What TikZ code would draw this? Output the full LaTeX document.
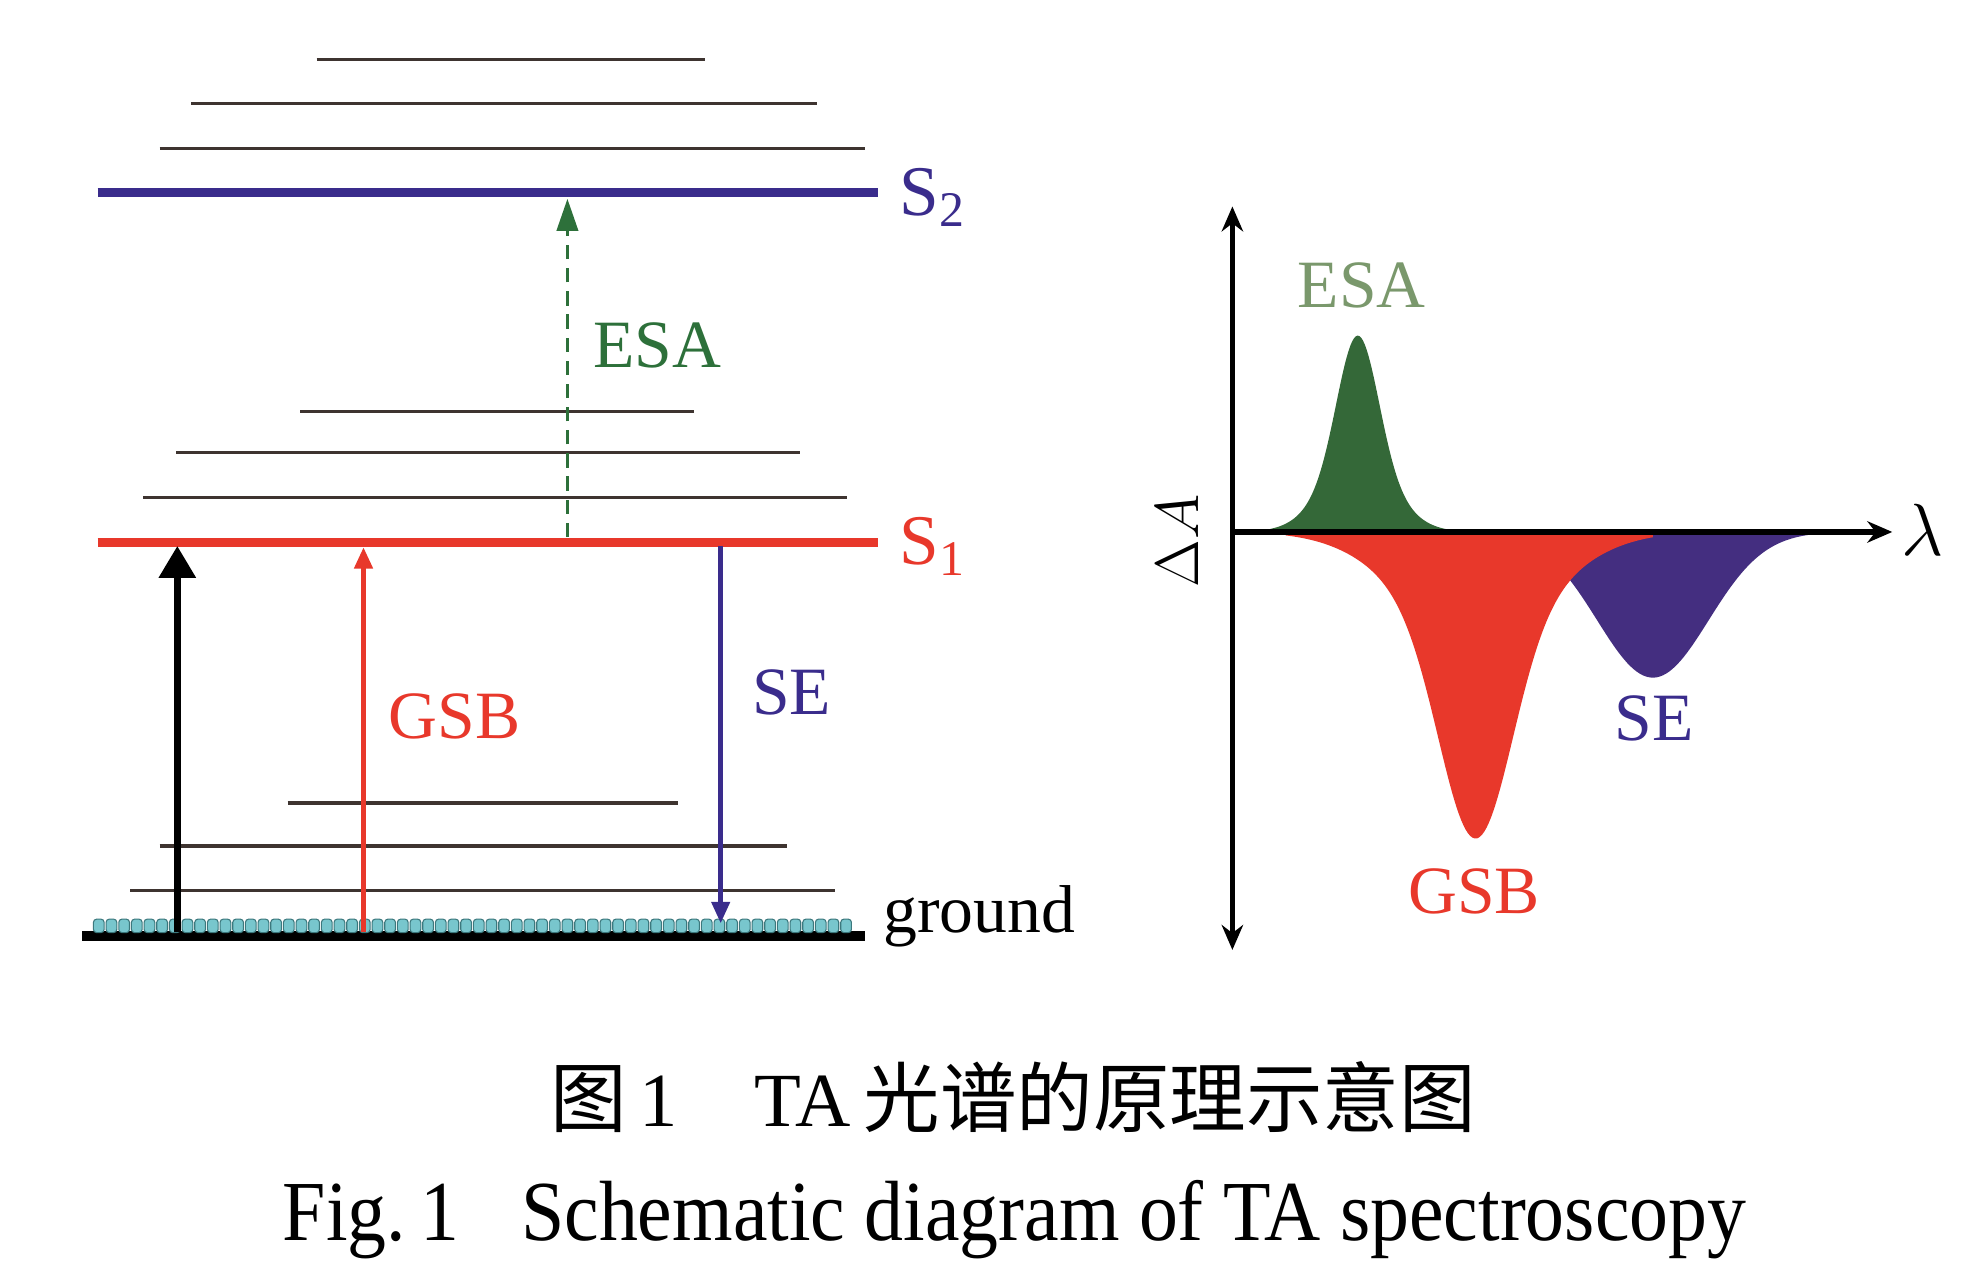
\documentclass[tikz,border=0pt]{standalone}
\usepackage{fontspec}
\setmainfont{Liberation Serif}
\newfontfamily\cjk{Noto Sans CJK SC}
\newfontfamily\capfont{Liberation Serif}[FakeStretch=0.91]
\usetikzlibrary{arrows.meta}
\definecolor{lvlgrey}{RGB}{62,52,48}
\definecolor{sblue}{RGB}{58,44,140}
\definecolor{sred}{RGB}{232,56,43}
\definecolor{esagreen}{RGB}{45,112,58}
\definecolor{esalight}{RGB}{122,152,108}
\definecolor{esafill}{RGB}{52,104,56}
\definecolor{sefill}{RGB}{68,46,128}
\definecolor{beadcol}{RGB}{120,198,205}
\definecolor{beadedge}{RGB}{60,120,125}

\begin{document}
\begin{tikzpicture}[x=0.125mm, y=-0.125mm,
    lvl/.style={draw=lvlgrey, line width=0.9pt},
    lbl/.style={font=\fontsize{19}{22}\selectfont, inner sep=0pt},
    bead/.style={draw=beadedge, fill=beadcol, line width=0.3pt, rounded corners=0.9pt,
        minimum width=3pt, minimum height=3.8pt, inner sep=0pt},
    axis/.style={line width=1.5pt, {Stealth[length=7pt,width=6pt]}-{Stealth[length=7pt,width=6pt]}}]
    \useasboundingbox (0,0) rectangle (1568,1016);

    \draw[lvl] (250,47) -- (557,47);
    \draw[lvl] (151,82) -- (645,82);
    \draw[lvl] (126,117) -- (683,117);
    \draw[sblue, line width=2.5pt] (77,152) -- (693,152);
    \node (S2) at (710,170) [lbl, sblue, anchor=base west, font=\fontsize{20}{22}\selectfont] {S\textsubscript{2}};

    \draw[lvl] (237,325) -- (548,325);
    \draw[lvl] (139,357) -- (632,357);
    \draw[lvl] (113,393) -- (669,393);
    \draw[sred, line width=2.5pt] (77,428) -- (693,428);
    \node (S1) at (710,446) [lbl, sred, anchor=base west, font=\fontsize{20}{22}\selectfont] {S\textsubscript{1}};

    \draw[lvl] (227,634) -- (535,634);
    \draw[lvl] (126,668) -- (621,668);
    \draw[lvl] (103,703) -- (659,703);
    \draw[black, line width=2.8pt] (65,739) -- (683,739);
    \foreach \i in {0,...,59}
        \node (b\i) at ({78+10*\i},731) [bead] {};
    \node (gnd) at (697,736) [lbl, anchor=base west] {ground};

    \coordinate (p0) at (140,736);
    \coordinate (p1) at (140,431);
    \coordinate (r0) at (287,736);
    \coordinate (r1) at (287,432);
    \coordinate (e0) at (569,431);
    \coordinate (e1) at (569,729);
    \coordinate (a0) at (448,424);
    \coordinate (a1) at (448,157);

    \draw[line width=2.1pt, -{Triangle[length=9pt,width=10pt]}] (p0) -- (p1);
    \draw[sred, line width=1.4pt, -{Triangle[length=6pt,width=5pt]}] (r0) -- (r1);
    \draw[sblue, line width=1.3pt, -{Triangle[length=6pt,width=5pt]}] (e0) -- (e1);
    \draw[esagreen, line width=0.8pt, dash pattern=on 4pt off 2.5pt, -{Triangle[length=9pt,width=6pt]}] (a0) -- (a1);

    \node (esa) at (519,290) [lbl, esagreen, anchor=base] {ESA};
    \node (gsb) at (359,583) [lbl, sred, anchor=base] {GSB};
    \node (se) at (625,564) [lbl, sblue, anchor=base] {SE};

    \fill[sefill] (1200,420) -- plot[domain=1200:1480, samples=120]
        (\x, {420+115*exp(-0.5*((\x-1305)/44)^2)}) -- (1480,420) -- cycle;
    \fill[sred] (1015,420) -- plot[domain=1015:1305, samples=160]
        (\x, {420+165*exp(-0.5*((\x-1165)/28)^2)+77*exp(-0.5*((\x-1165)/58)^2)}) -- (1305,420) -- cycle;
    \fill[esafill] (985,420) -- plot[domain=985:1160, samples=120]
        (\x, {420-105*exp(-0.5*((\x-1072)/16)^2)-50*exp(-0.5*((\x-1072)/28)^2)}) -- (1160,420) -- cycle;

    \coordinate (o) at (973,420);
    \coordinate (yt) at (973,163);
    \coordinate (yb) at (973,750);
    \coordinate (xr) at (1494,420);
    \draw[axis] (yb) -- (yt);
    \draw[line width=1.5pt, -{Stealth[length=7pt,width=6pt]}] (o) -- (xr);

    \node (lam) at (1518,418) [font=\fontsize{20}{22}\selectfont] {$\lambda$};
    \node (dA) at (930,427) [rotate=90, font=\fontsize{19}{22}\selectfont] {$\Delta A$};
    \node (esa2) at (1075,243) [lbl, esalight, anchor=base] {ESA};
    \node (se2) at (1306,585) [lbl, sblue, anchor=base] {SE};
    \node (gsb2) at (1164,721) [lbl, sred, anchor=base] {GSB};

    \node (cap1) at (800,866) {\fontsize{21.5}{24}\selectfont\cjk 图\,{\rmfamily 1}\quad{\rmfamily TA}\,光谱的原理示意图};
    \node (cap2) at (801,963) {\fontsize{24}{28}\selectfont\capfont Fig.\,1\enskip\ Schematic diagram of TA spectroscopy};
\end{tikzpicture}
\end{document}
